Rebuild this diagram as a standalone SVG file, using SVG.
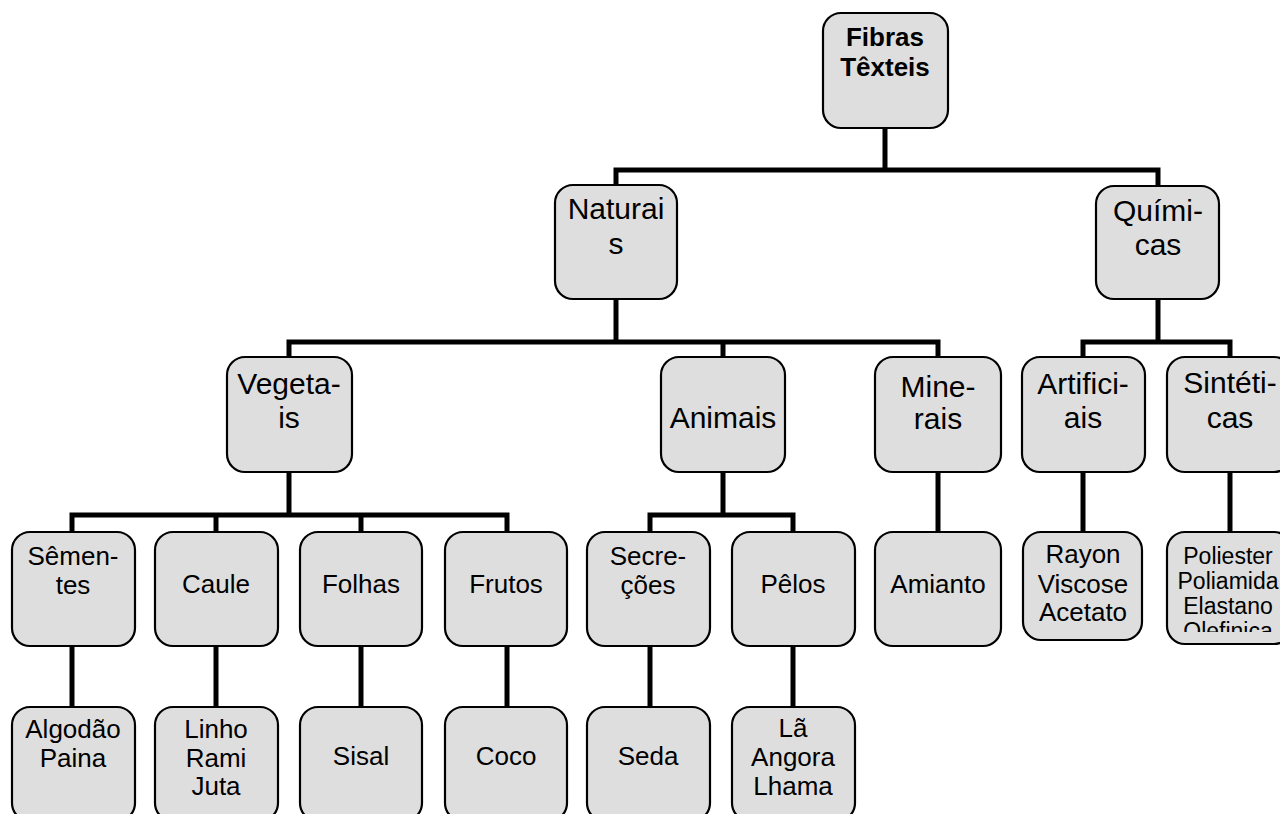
<svg xmlns="http://www.w3.org/2000/svg" width="1280" height="814" viewBox="0 0 1280 814">
<style>
.box{fill:#dedede;stroke:#000;stroke-width:2.2}
.t{font-family:"Liberation Sans",Arial,sans-serif;fill:#000;text-anchor:middle}
.f0{font-size:26px;font-weight:bold}
.f1{font-size:30px}
.f3{font-size:26px}
.f5{font-size:23px}
.c{fill:none;stroke:#000;stroke-width:5;stroke-linejoin:miter}
</style>
<defs>
<clipPath id="clipPol"><rect x="1168" y="533" width="121" height="99"/></clipPath>
</defs>
<rect width="1280" height="814" fill="#fff"/>
<g id="connectors" class="c">
<path d="M885 128 V170"/>
<path d="M616 185 V170 H1158 V186"/>
<path d="M616 299 V342"/>
<path d="M289 357 V342 H938 V357"/>
<path d="M723 342 V357"/>
<path d="M1158 299 V342"/>
<path d="M1083 357 V342 H1230 V357"/>
<path d="M289 472 V515"/>
<path d="M72 532 V515 H507 V532"/>
<path d="M216 515 V532"/>
<path d="M361 515 V532"/>
<path d="M723 472 V515"/>
<path d="M650 532 V515 H793 V532"/>
<path d="M938 472 V532"/>
<path d="M1083 472 V532"/>
<path d="M1230 472 V532"/>
<path d="M72 646 V707"/>
<path d="M216 646 V707"/>
<path d="M361 646 V707"/>
<path d="M507 646 V707"/>
<path d="M650 646 V707"/>
<path d="M793 646 V707"/>
</g>
<g id="n-fibras"><rect class="box" x="823" y="13" width="125" height="115" rx="18"/><text class="t f0" x="885" y="46">Fibras</text><text class="t f0" x="885" y="76">Têxteis</text></g>
<g id="n-naturais"><rect class="box" x="555" y="185" width="122" height="114" rx="18"/><text class="t f1" x="616" y="219">Naturai</text><text class="t f1" x="616" y="254">s</text></g>
<g id="n-quimicas"><rect class="box" x="1096" y="186" width="123" height="113" rx="18"/><text class="t f1" x="1158" y="221">Quími-</text><text class="t f1" x="1158" y="255">cas</text></g>
<g id="n-vegetais"><rect class="box" x="227" y="357" width="125" height="115" rx="18"/><text class="t f1" x="289" y="394">Vegeta-</text><text class="t f1" x="289" y="428">is</text></g>
<g id="n-animais"><rect class="box" x="661" y="357" width="124" height="115" rx="18"/><text class="t f1" x="723" y="428">Animais</text></g>
<g id="n-minerais"><rect class="box" x="875" y="357" width="126" height="115" rx="18"/><text class="t f1" x="938" y="397">Mine-</text><text class="t f1" x="938" y="429">rais</text></g>
<g id="n-artificiais"><rect class="box" x="1022" y="357" width="123" height="115" rx="18"/><text class="t f1" x="1083" y="394">Artifici-</text><text class="t f1" x="1083" y="428">ais</text></g>
<g id="n-sinteticas"><rect class="box" x="1167" y="357" width="125" height="115" rx="18"/><text class="t f1" x="1230" y="393">Sintéti-</text><text class="t f1" x="1230" y="428">cas</text></g>
<g id="n-sementes"><rect class="box" x="12" y="532" width="123" height="114" rx="18"/><text class="t f3" x="73" y="565">Sêmen-</text><text class="t f3" x="73" y="594">tes</text></g>
<g id="n-caule"><rect class="box" x="155" y="532" width="123" height="114" rx="18"/><text class="t f3" x="216" y="593">Caule</text></g>
<g id="n-folhas"><rect class="box" x="300" y="532" width="122" height="114" rx="18"/><text class="t f3" x="361" y="593">Folhas</text></g>
<g id="n-frutos"><rect class="box" x="445" y="532" width="122" height="114" rx="18"/><text class="t f3" x="506" y="593">Frutos</text></g>
<g id="n-secrecoes"><rect class="box" x="587" y="532" width="123" height="114" rx="18"/><text class="t f3" x="648" y="565">Secre-</text><text class="t f3" x="648" y="594">ções</text></g>
<g id="n-pelos"><rect class="box" x="732" y="532" width="123" height="114" rx="18"/><text class="t f3" x="793" y="593">Pêlos</text></g>
<g id="n-amianto"><rect class="box" x="875" y="532" width="126" height="114" rx="18"/><text class="t f3" x="938" y="593">Amianto</text></g>
<g id="n-rayon"><rect class="box" x="1023" y="532" width="119" height="108" rx="18"/><text class="t f3" x="1083" y="563">Rayon</text><text class="t f3" x="1083" y="593">Viscose</text><text class="t f3" x="1083" y="621">Acetato</text></g>
<g id="n-poliester"><rect class="box" x="1167" y="532" width="125" height="112" rx="18"/><g clip-path="url(#clipPol)"><text class="t f5" x="1228" y="564">Poliester</text><text class="t f5" x="1228" y="589">Poliamida</text><text class="t f5" x="1228" y="614">Elastano</text><text class="t f5" x="1228" y="639">Olefinica</text></g></g>
<g id="n-algodao"><rect class="box" x="12" y="707" width="123" height="114" rx="18"/><text class="t f3" x="73" y="738">Algodão</text><text class="t f3" x="73" y="767">Paina</text></g>
<g id="n-linho"><rect class="box" x="155" y="707" width="123" height="114" rx="18"/><text class="t f3" x="216" y="738">Linho</text><text class="t f3" x="216" y="767">Rami</text><text class="t f3" x="216" y="795">Juta</text></g>
<g id="n-sisal"><rect class="box" x="300" y="707" width="122" height="114" rx="18"/><text class="t f3" x="361" y="765">Sisal</text></g>
<g id="n-coco"><rect class="box" x="445" y="707" width="122" height="114" rx="18"/><text class="t f3" x="506" y="765">Coco</text></g>
<g id="n-seda"><rect class="box" x="587" y="707" width="123" height="114" rx="18"/><text class="t f3" x="648" y="765">Seda</text></g>
<g id="n-la"><rect class="box" x="732" y="707" width="123" height="114" rx="18"/><text class="t f3" x="793" y="737">Lã</text><text class="t f3" x="793" y="766">Angora</text><text class="t f3" x="793" y="795">Lhama</text></g>
</svg>
